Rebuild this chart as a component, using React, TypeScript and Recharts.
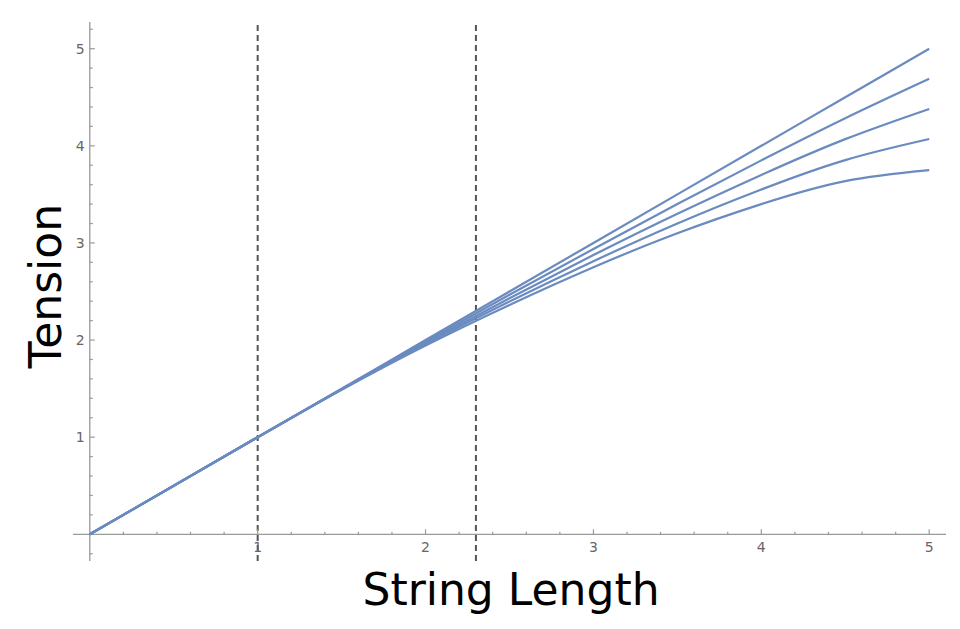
import React from "react";
import { LineChart, Line, XAxis, YAxis, ReferenceLine } from "recharts";

const LENGTHS = [0, 0.5, 1, 1.5, 2, 2.5, 3, 3.5, 4, 4.5, 5];
const TENSION_1 = [0, 0.5, 1, 1.5, 2, 2.5, 3, 3.5, 4, 4.5, 5];
const TENSION_2 = [0, 0.5, 1, 1.497, 1.986, 2.466, 2.938, 3.4, 3.85, 4.284, 4.69];
const TENSION_3 = [0, 0.5, 1, 1.494, 1.972, 2.431, 2.875, 3.3, 3.7, 4.069, 4.38];
const TENSION_4 = [0, 0.5, 1, 1.491, 1.958, 2.397, 2.812, 3.2, 3.55, 3.853, 4.07];
const TENSION_5 = [0, 0.5, 1, 1.488, 1.944, 2.362, 2.75, 3.1, 3.4, 3.637, 3.75];

const SERIES = [TENSION_1, TENSION_2, TENSION_3, TENSION_4, TENSION_5];
const MARKERS = [1, 2.3];

const X_TICKS = [
  0.2, 0.4, 0.6, 0.8, 1, 1.2, 1.4, 1.6, 1.8, 2, 2.2, 2.4, 2.6, 2.8, 3, 3.2, 3.4,
  3.6, 3.8, 4, 4.2, 4.4, 4.6, 4.8, 5,
];
const Y_TICKS = [
  -0.2, 0.2, 0.4, 0.6, 0.8, 1, 1.2, 1.4, 1.6, 1.8, 2, 2.2, 2.4, 2.6, 2.8, 3, 3.2,
  3.4, 3.6, 3.8, 4, 4.2, 4.4, 4.6, 4.8, 5, 5.2,
];

const data = LENGTHS.map((L, i) => {
  const row: Record<string, number> = { L };
  SERIES.forEach((s, k) => (row["t" + k] = s[i]));
  return row;
});

const W = 960;
const H = 629;
// axes take 1px each (a 0px axis is not drawn at all)
const MARGIN = { top: 22, right: 14, bottom: 67, left: 72 };
const X_DOMAIN = [-0.1, 5.1];
const Y_DOMAIN = [-0.275, 5.275];
const PLOT_W = W - MARGIN.left - 1 - MARGIN.right;
const PLOT_H = H - MARGIN.top - MARGIN.bottom - 1;
// distance from plot edge to the zero line (axes cross at the origin)
const X_ZERO_OFF = ((0 - X_DOMAIN[0]) / (X_DOMAIN[1] - X_DOMAIN[0])) * PLOT_W;
const Y_ZERO_OFF = ((0 - Y_DOMAIN[0]) / (Y_DOMAIN[1] - Y_DOMAIN[0])) * PLOT_H;

const AXIS = "#9a9a9a";
const LABEL = "#666";
const CURVE = "#6a8bc0";
const FONT = "DejaVu Sans, sans-serif";

const isMajor = (v: number) => Math.abs(v - Math.round(v)) < 1e-6;

function XTick(props: any) {
  const { x, y, payload } = props;
  const v = payload.value;
  const y0 = y - Y_ZERO_OFF;
  const major = isMajor(v);
  return (
    <g>
      <line x1={x} x2={x} y1={y0} y2={y0 - (major ? 5 : 2.5)} stroke={AXIS} strokeWidth={1.2} />
      {major && (
        <text x={x} y={y0 + 18} textAnchor="middle" fontSize={14} fill={LABEL} fontFamily={FONT}>
          {Math.round(v)}
        </text>
      )}
    </g>
  );
}

function YTick(props: any) {
  const { x, y, payload } = props;
  const v = payload.value;
  const x0 = x + X_ZERO_OFF;
  const major = isMajor(v);
  return (
    <g>
      <line x1={x0} x2={x0 + (major ? 5 : 3)} y1={y} y2={y} stroke={AXIS} strokeWidth={1.2} />
      {major && (
        <text x={x0 - 5} y={y + 5} textAnchor="end" fontSize={14} fill={LABEL} fontFamily={FONT}>
          {Math.round(v)}
        </text>
      )}
    </g>
  );
}

export default function App() {
  return (
    <div style={{ position: "absolute", left: 0, top: 0, width: W, height: H, background: "#fff" }}>
      <LineChart width={W} height={H} data={data} margin={MARGIN}>
        <XAxis
          dataKey="L"
          type="number"
          domain={X_DOMAIN}
          allowDataOverflow
          ticks={X_TICKS}
          interval={0}
          height={1}
          tickSize={0}
          tickMargin={0}
          axisLine={false}
          tickLine={false}
          tick={XTick}
        />
        <YAxis
          type="number"
          domain={Y_DOMAIN}
          allowDataOverflow
          ticks={Y_TICKS}
          interval={0}
          width={1}
          tickSize={0}
          tickMargin={0}
          axisLine={false}
          tickLine={false}
          tick={YTick}
        />
        <ReferenceLine y={0} stroke={AXIS} strokeWidth={1.3} />
        <ReferenceLine x={0} stroke={AXIS} strokeWidth={1.3} />
        {MARKERS.map((m) => (
          <ReferenceLine key={m} x={m} stroke="#555" strokeWidth={2} strokeDasharray="6 4" />
        ))}
        {SERIES.map((_, k) => (
          <Line
            key={k}
            type="natural"
            dataKey={"t" + k}
            stroke={CURVE}
            strokeWidth={2.2}
            dot={false}
            isAnimationActive={false}
          />
        ))}
      </LineChart>
      <svg
        width={W}
        height={H}
        style={{ position: "absolute", left: 0, top: 0, pointerEvents: "none" }}
      >
        <text x={511} y={605} textAnchor="middle" fontSize={44} fontFamily={FONT} fill="#000">
          String Length
        </text>
        <text
          x={61}
          y={286}
          textAnchor="middle"
          fontSize={44}
          fontFamily={FONT}
          fill="#000"
          transform="rotate(-90 61 286)"
        >
          Tension
        </text>
      </svg>
    </div>
  );
}
